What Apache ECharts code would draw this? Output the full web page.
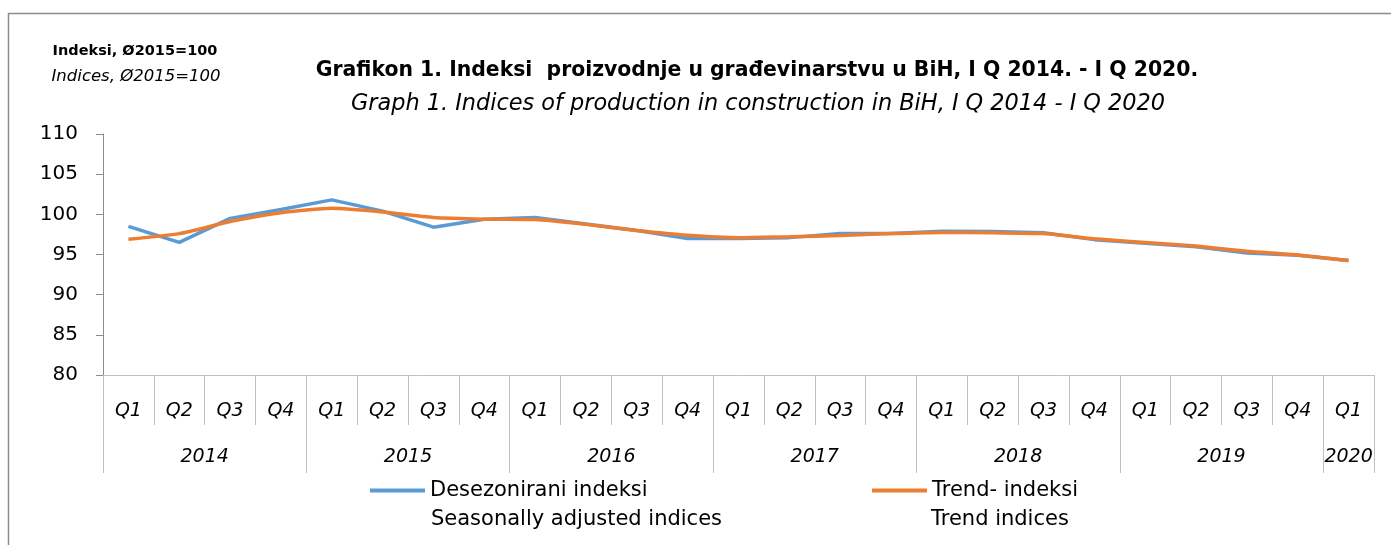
<!DOCTYPE html>
<html>
<head>
<meta charset="utf-8">
<script src="https://cdn.jsdelivr.net/npm/echarts@6/dist/echarts.min.js"></script>
<style>
html,body{margin:0;padding:0;background:#fff;}
#chart{width:1391px;height:545px;}
</style>
</head>
<body>
<div id="chart"></div>
<script>
var quarters = ['Q1','Q2','Q3','Q4','Q1','Q2','Q3','Q4','Q1','Q2','Q3','Q4','Q1','Q2','Q3','Q4','Q1','Q2','Q3','Q4','Q1','Q2','Q3','Q4','Q1'];
var years = ['2014','2015','2016','2017','2018','2019','2020'];
var yearLabelPos = [2, 6, 10, 14, 18, 22, 24.5];
var yearBounds = [0, 4, 8, 12, 16, 20, 24, 25];
var seasonal = [98.5, 96.5, 99.5, 100.6, 101.8, 100.4, 98.4, 99.4, 99.6, 98.8, 98.0, 97.0, 97.0, 97.1, 97.6, 97.6, 97.9, 97.85, 97.7, 96.85, 96.4, 95.95, 95.2, 94.9, 94.25];
var trend = [96.9, 97.6, 99.1, 100.2, 100.75, 100.3, 99.6, 99.4, 99.35, 98.75, 98.0, 97.4, 97.1, 97.2, 97.35, 97.6, 97.75, 97.7, 97.6, 96.95, 96.5, 96.05, 95.4, 94.95, 94.25];
var yTicks = [80, 85, 90, 95, 100, 105, 110];
var nameSeasonal = 'Desezonirani indeksi';
var nameTrend = 'Trend- indeksi';
var nameSeasonalEn = 'Seasonally adjusted indices';
var nameTrendEn = 'Trend indices';
var unitBs = 'Indeksi, Ø2015=100';
var unitEn = 'Indices, Ø2015=100';
var titleBs = 'Grafikon 1. Indeksi  proizvodnje u građevinarstvu u BiH, I Q 2014. - I Q 2020.';
var titleEn = 'Graph 1. Indices of production in construction in BiH, I Q 2014 - I Q 2020';

var FONT = '"DejaVu Sans", sans-serif';
function txt(text, x, y, size, weight, style, align) {
  return { type: 'text', x: x, y: y, silent: true,
    style: { text: text, fill: '#000', align: align || 'center', verticalAlign: 'middle',
      font: (style || 'normal') + ' ' + (weight || 'normal') + ' ' + size + 'px ' + FONT } };
}
var chart = echarts.init(document.getElementById('chart'));
chart.setOption({
  animation: false,
  backgroundColor: '#ffffff',
  textStyle: { fontFamily: FONT, color: '#000' },
  legend: [
    { data: [nameSeasonal], left: 370, top: 480, padding: 0, icon: 'rect', itemWidth: 55, itemHeight: 4, itemGap: 5,
      textStyle: { fontFamily: FONT, fontSize: 21, color: '#000' } },
    { data: [nameTrend], left: 872, top: 480, padding: 0, icon: 'rect', itemWidth: 55, itemHeight: 4, itemGap: 5,
      textStyle: { fontFamily: FONT, fontSize: 21, color: '#000' } }
  ],
  graphic: [
    { type: 'rect', silent: true, z: -1,
      shape: { x: 8.5, y: 13.5, width: 1600, height: 800 },
      style: { fill: null, stroke: '#8c8c8c', lineWidth: 1.5 } },
    txt(unitBs, 135, 51, 14.5, 'bold', 'normal'),
    txt(unitEn, 136, 77, 16.5, 'normal', 'italic'),
    txt(titleBs, 757, 71, 20.4, 'bold', 'normal'),
    txt(titleEn, 758, 104, 22.4, 'normal', 'italic'),
    txt(nameSeasonalEn, 431, 520, 21, 'normal', 'normal', 'left'),
    txt(nameTrendEn, 931, 520, 21, 'normal', 'normal', 'left')
  ],
  grid: { left: 103, right: 17, top: 134, bottom: 170, containLabel: false },
  xAxis: [
    { type: 'category', data: quarters, boundaryGap: true, position: 'bottom',
      axisLine: { show: true, lineStyle: { color: '#c0c0c0', width: 1 } },
      axisTick: { show: true, interval: 0, length: 50, alignWithLabel: false, lineStyle: { color: '#c0c0c0' } },
      axisLabel: { interval: 0, margin: 27, fontSize: 19, fontStyle: 'italic', color: '#000', fontFamily: FONT },
      splitLine: { show: false } },
    { type: 'value', min: 0, max: 25, position: 'bottom', offset: 0,
      axisLine: { show: false },
      axisTick: { show: true, length: 98, customValues: yearBounds, lineStyle: { color: '#c0c0c0' } },
      axisLabel: { customValues: yearLabelPos, margin: 73, fontSize: 19, fontStyle: 'italic', color: '#000', fontFamily: FONT,
        formatter: function (v) { var i = yearLabelPos.indexOf(v); return i >= 0 ? years[i] : ''; } },
      splitLine: { show: false } }
  ],
  yAxis: {
    type: 'value', min: 80, max: 110, interval: 5,
    axisLine: { show: true, lineStyle: { color: '#8c8c8c', width: 1 } },
    axisTick: { show: true, length: 7, lineStyle: { color: '#8c8c8c' } },
    axisLabel: { margin: 25, fontSize: 20, color: '#000', fontFamily: FONT,
      formatter: function (v) { return yTicks.indexOf(v) >= 0 ? String(v) : ''; } },
    splitLine: { show: false }
  },
  series: [
    { name: nameSeasonal, type: 'line', xAxisIndex: 0, data: seasonal, symbol: 'none',
      lineStyle: { color: '#5B9BD5', width: 3.5 }, itemStyle: { color: '#5B9BD5' }, z: 2 },
    { name: nameTrend, type: 'line', xAxisIndex: 0, data: trend, symbol: 'none', smooth: 0.2,
      lineStyle: { color: '#ED7D31', width: 3.5 }, itemStyle: { color: '#ED7D31' }, z: 3 }
  ]
});
</script>
</body>
</html>
